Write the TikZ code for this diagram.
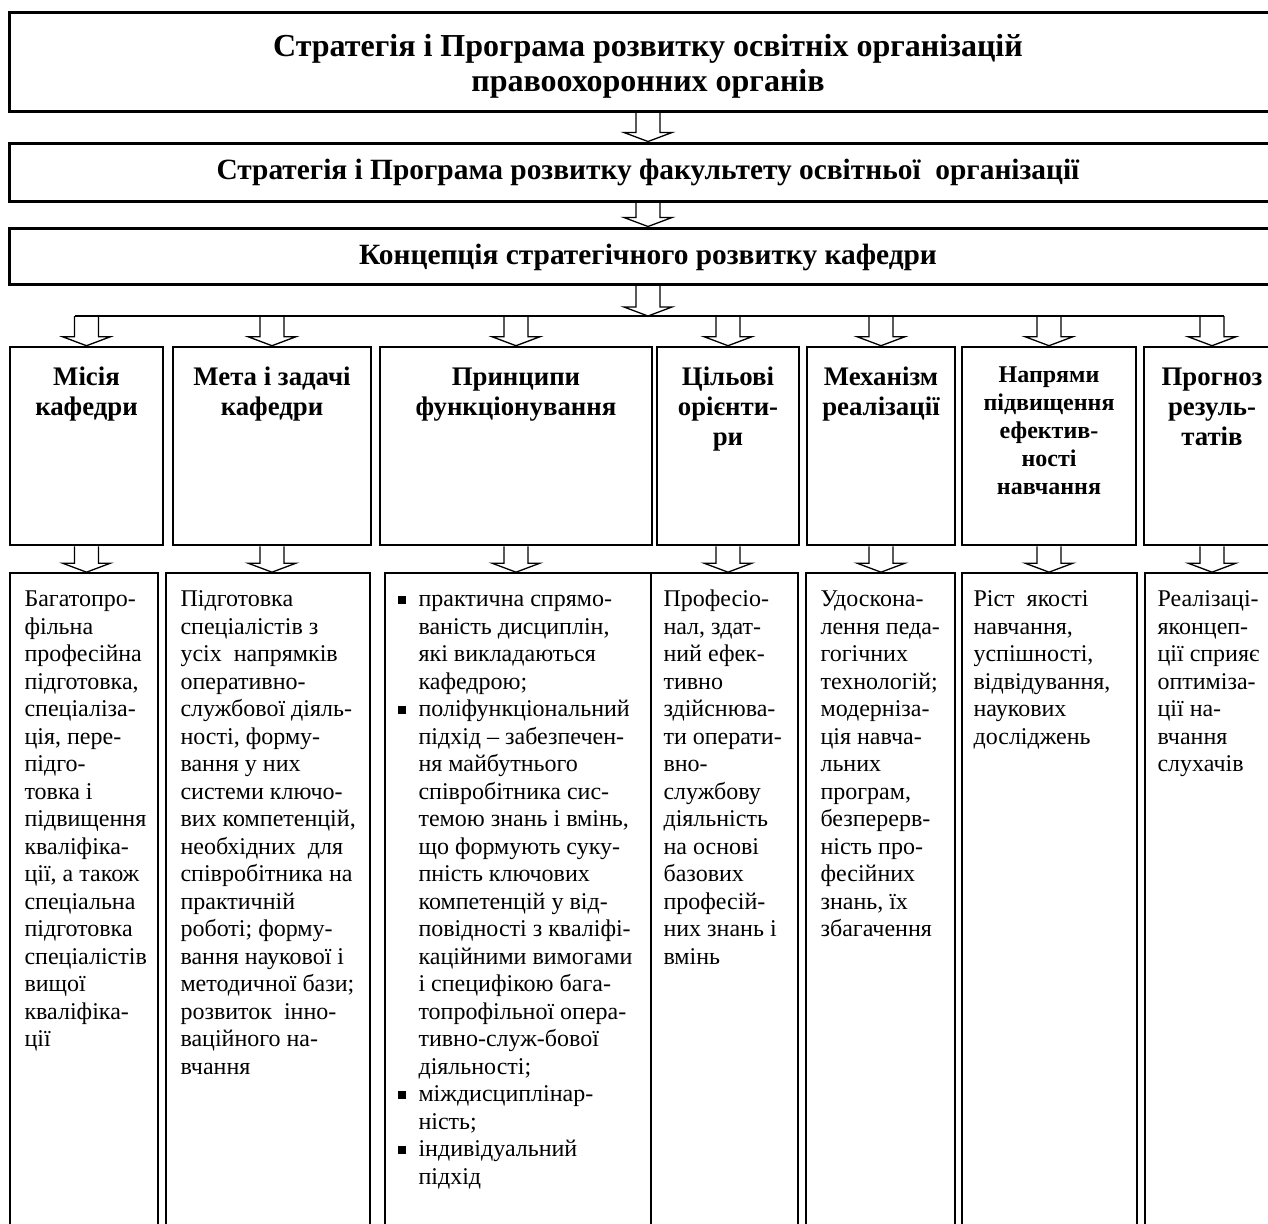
\documentclass[tikz,border=0pt]{standalone}
\usepackage{fontspec}
\setmainfont{Liberation Serif}
\usetikzlibrary{calc,fit}

% hollow block arrow pointing down, tip at #2
\newcommand{\hollowdown}[2]{%
  \draw[arrowline] let \p1=(#1), \p2=(#2) in
    (\x2-6pt,\y1) -- (\x2-6pt,\y2+4.5pt) -- (\x2-12pt,\y2+4.5pt) -- (\x2,\y2)
    -- (\x2+12pt,\y2+4.5pt) -- (\x2+6pt,\y2+4.5pt) -- (\x2+6pt,\y1);}
\newcommand{\sqbullet}{\llap{\rule[1.6pt]{3.6pt}{3.6pt}\hspace{6.5pt}}}

\begin{document}
\begin{tikzpicture}[x=0.5pt,y=-0.5pt,
  topbox/.style={draw,line width=1.5pt,inner sep=0pt,align=center,minimum width=639pt,font=\bfseries\fontsize{14.7}{16}\selectfont},
  colbox/.style={draw,line width=1.3pt,inner sep=0pt},
  txtbox/.style={draw,line width=0.85pt,inner sep=0pt},
  arrowline/.style={line width=0.65pt,line join=miter},
  barline/.style={line width=0.7pt},
  hdr/.style={anchor=north,inner sep=0pt,align=center,font=\bfseries\fontsize{13.4}{15}\selectfont},
  body/.style={anchor=north west,inner sep=0pt,align=left,font=\fontsize{12}{13.75}\selectfont}]

\useasboundingbox (0,0) rectangle (1268,1223);
\clip (0,0) rectangle (1268,1223);

% upper levels
\node[topbox,minimum height=49.5pt,font=\bfseries\fontsize{16}{17.5}\selectfont] (osvita) at (648,61.5)
  {\rule{0pt}{16pt}Стратегія і Програма розвитку освітніх організацій\\правоохоронних органів};
\node[topbox,minimum height=29pt] (fakultet) at (648,172)
  {Стратегія і Програма розвитку факультету освітньої~ організації};
\node[topbox,minimum height=28pt] (koncepcia) at (648,256)
  {\rule{0pt}{12pt}Концепція стратегічного розвитку кафедри};
\coordinate (bar) at (648,316);

% column heads
\node[colbox,fit={(10,347) (163,545)}] (misia) {};
\node[colbox,fit={(173,347) (371,545)}] (meta) {};
\node[colbox,fit={(380,347) (652,545)}] (pryncypy) {};
\node[colbox,fit={(657,347) (799,545)}] (oriientyry) {};
\node[colbox,fit={(807,347) (955,545)}] (mekhanizm) {};
\node[colbox,fit={(962,347) (1136,545)}] (napriamy) {};
\node[colbox,fit={(1144,347) (1280,545)}] (prohnoz) {};

\node[hdr] (misia-h) at ($(misia.north)+(0,18)$) {\strut Місія\\кафедри};
\node[hdr] (meta-h) at ($(meta.north)+(0,18)$) {\strut Мета і задачі\\кафедри};
\node[hdr] (pryncypy-h) at ($(pryncypy.north)+(0,18)$) {\strut Принципи\\функціонування};
\node[hdr] (oriientyry-h) at ($(oriientyry.north)+(0,18)$) {\strut Цільові\\орієнти-\\ри};
\node[hdr] (mekhanizm-h) at ($(mekhanizm.north)+(0,18)$) {\strut Механізм\\реалізації};
\node[hdr,font=\bfseries\fontsize{12}{14}\selectfont] (napriamy-h) at ($(napriamy.north)+(0,17)$)
  {\strut Напрями\\підвищення\\ефектив-\\ності\\навчання};
\node[hdr] (prohnoz-h) at ($(prohnoz.north)+(0,18)$) {\strut Прогноз\\резуль-\\татів};

% column texts
\node[txtbox,fit={(10,573) (158,1260)}] (misia-d) {};
\node[txtbox,fit={(166,573) (370,1260)}] (meta-d) {};
\node[txtbox,fit={(385,573) (651,1260)}] (pryncypy-d) {};
\node[txtbox,fit={(651,573) (798,1260)}] (oriientyry-d) {};
\node[txtbox,fit={(806,573) (955,1260)}] (mekhanizm-d) {};
\node[txtbox,fit={(962,573) (1137,1260)}] (napriamy-d) {};
\node[txtbox,fit={(1145,573) (1280,1260)}] (prohnoz-d) {};

\node[body] (misia-t) at ($(misia-d.north west)+(15,15)$)
  {\strut Багатопро-\\фільна\\професійна\\підготовка,\\спеціаліза-\\ція, пере-\\підго-\\товка і\\підвищення\\кваліфіка-\\ції, а також\\спеціальна\\підготовка\\спеціалістів\\вищої\\кваліфіка-\\ції};
\node[body] (meta-t) at ($(meta-d.north west)+(15,15)$)
  {\strut Підготовка\\спеціалістів з\\усіх~ напрямків\\оперативно-\\службової діяль-\\ності, форму-\\вання у них\\системи ключо-\\вих компетенцій,\\необхідних~ для\\співробітника на\\практичній\\роботі; форму-\\вання наукової і\\методичної бази;\\розвиток~ інно-\\ваційного на-\\вчання};
\node[body] (pryncypy-t) at ($(pryncypy-d.north west)+(34,15)$)
  {\strut\sqbullet практична спрямо-\\ваність дисциплін,\\які викладаються\\кафедрою;\\\sqbullet поліфункціональний\\підхід – забезпечен-\\ня майбутнього\\співробітника сис-\\темою знань і вмінь,\\що формують суку-\\пність ключових\\компетенцій у від-\\повідності з кваліфі-\\каційними вимогами\\і специфікою бага-\\топрофільної опера-\\тивно-служ-бової\\діяльності;\\\sqbullet міждисциплінар-\\ність;\\\sqbullet індивідуальний\\підхід};
\node[body] (oriientyry-t) at ($(oriientyry-d.north west)+(13,15)$)
  {\strut Професіо-\\нал, здат-\\ний ефек-\\тивно\\здійснюва-\\ти операти-\\вно-\\службову\\діяльність\\на основі\\базових\\професій-\\них знань і\\вмінь};
\node[body] (mekhanizm-t) at ($(mekhanizm-d.north west)+(15,15)$)
  {\strut Удоскона-\\лення педа-\\гогічних\\технологій;\\модерніза-\\ція навча-\\льних\\програм,\\безперерв-\\ність про-\\фесійних\\знань, їх\\збагачення};
\node[body] (napriamy-t) at ($(napriamy-d.north west)+(12,15)$)
  {\strut Ріст~ якості\\навчання,\\успішності,\\відвідування,\\наукових\\досліджень};
\node[body] (prohnoz-t) at ($(prohnoz-d.north west)+(13,15)$)
  {\strut Реалізаці-\\яконцеп-\\ції сприяє\\оптиміза-\\ції на-\\вчання\\слухачів};

% arrows
\hollowdown{osvita.south}{fakultet.north}
\hollowdown{fakultet.south}{koncepcia.north}
\hollowdown{koncepcia.south}{bar}
\draw[barline] ($(misia.north |- bar)+(-6pt,0)$) -- ($(prohnoz.north |- bar)+(6pt,0)$);
\foreach \col in {misia,meta,pryncypy,oriientyry,mekhanizm,napriamy,prohnoz}{
  \hollowdown{\col.north |- bar}{\col.north}
  \hollowdown{\col.south}{\col.south |- \col-d.north}
}
\end{tikzpicture}
\end{document}
